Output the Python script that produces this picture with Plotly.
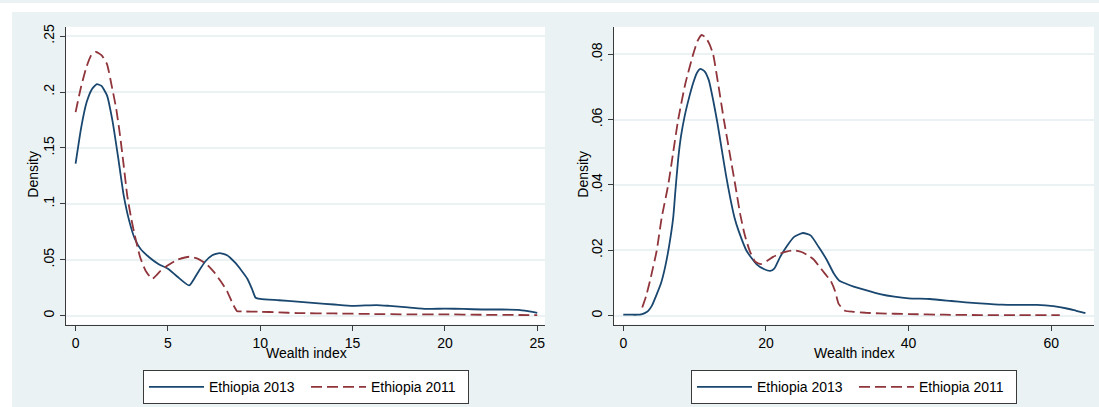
import plotly.graph_objects as go

# Kernel density of the wealth index, Ethiopia 2013 vs 2011
# Left panel: narrow index scale
left_x_2013 = [0, 0.3, 0.6, 0.9, 1.15, 1.4, 1.7, 2.0, 2.3, 2.6, 2.9, 3.2, 3.5, 4.0, 4.5,
               5.0, 5.5, 6.15, 6.6, 7.0, 7.4, 7.8, 8.2, 8.6, 9.0, 9.3, 9.55, 9.75, 10.0,
               11, 12, 13, 14, 15, 16.3, 17, 18, 19, 20, 21, 22, 23, 24, 24.5, 25]
left_y_2013 = [0.136, 0.168, 0.191, 0.203, 0.207, 0.2055, 0.197, 0.174, 0.142, 0.108, 0.085,
               0.069, 0.060, 0.052, 0.046, 0.042, 0.035, 0.027, 0.038, 0.048, 0.054, 0.056,
               0.054, 0.048, 0.040, 0.033, 0.024, 0.016, 0.015, 0.0138, 0.0125, 0.0112,
               0.010, 0.0088, 0.0095, 0.0088, 0.0075, 0.006, 0.0063, 0.006, 0.0055, 0.0055,
               0.0052, 0.004, 0.0025]

left_x_2011 = [0, 0.3, 0.6, 0.85, 1.1, 1.4, 1.7, 1.95, 2.2, 2.4, 2.6, 2.8, 3.0, 3.2, 3.5,
               3.8, 4.15, 4.6, 5.0, 5.5, 6.15, 6.6, 7.1, 7.5, 7.85, 8.2, 8.5, 8.75, 9, 10,
               11, 12, 14, 16, 18, 20, 22, 24, 25]
left_y_2011 = [0.182, 0.205, 0.223, 0.233, 0.2358, 0.233, 0.225, 0.206, 0.185, 0.162, 0.135,
               0.107, 0.088, 0.072, 0.052, 0.040, 0.033, 0.040, 0.045, 0.050, 0.0527, 0.051,
               0.046, 0.039, 0.031, 0.022, 0.011, 0.004, 0.0038, 0.0035, 0.003, 0.0023,
               0.002, 0.0015, 0.0012, 0.0012, 0.0008, 0.0006, 0.0005]

# Right panel: wide index scale
right_x_2013 = [0, 1, 2, 2.5, 3, 3.5, 4, 4.7, 5.3, 5.85, 6.4, 7.0, 7.3, 7.7, 8.1, 8.6, 9.2,
                9.8, 10.3, 10.8, 11.4, 12.0, 12.6, 13.2, 13.8, 14.4, 15.0, 15.6, 16.2, 17.3,
                18.7, 19.7, 20.6, 21.2, 22, 23, 24, 25.2, 26.3, 27.4, 28.5, 29.5, 30.3, 31,
                32.3, 34, 36, 38, 40, 43, 46, 48, 50, 53, 56, 58, 60.3, 62.2, 63.5, 64.8]
right_y_2013 = [0.0003, 0.0003, 0.0003, 0.0004, 0.0008, 0.0015, 0.003, 0.0066, 0.010, 0.0147,
                0.021, 0.030, 0.038, 0.048, 0.055, 0.061, 0.0665, 0.0712, 0.0742, 0.0755,
                0.0748, 0.0720, 0.066, 0.059, 0.051, 0.043, 0.036, 0.030, 0.0258, 0.0198,
                0.0157, 0.0143, 0.0137, 0.0145, 0.018, 0.0215, 0.0242, 0.0253, 0.0245, 0.021,
                0.0172, 0.013, 0.0107, 0.0100, 0.0089, 0.0078, 0.0066, 0.0058, 0.0053,
                0.0051, 0.0045, 0.0041, 0.0038, 0.0034, 0.0033, 0.0033, 0.0029, 0.0022,
                0.0015, 0.0008]

right_x_2011 = [2.66, 3.2, 3.74, 4.2, 4.68, 5.38, 6.3, 7.0, 7.7, 8.7, 9.8, 10.4, 11.0, 11.6,
                12.1, 12.6, 13.3, 14.1, 14.9, 15.7, 16.4, 17.0, 17.7, 18.5, 19.3, 20.1, 21,
                22, 23, 23.9, 25, 26, 26.7, 27.5, 28.3, 29.1, 29.7, 30.2, 31.1, 32.3, 34, 36,
                40, 45, 50, 55, 61.2]
right_y_2011 = [0.0025, 0.006, 0.0106, 0.015, 0.0198, 0.0299, 0.040, 0.050, 0.060, 0.071,
                0.080, 0.084, 0.0859, 0.085, 0.083, 0.080, 0.071, 0.060, 0.050, 0.040, 0.031,
                0.025, 0.020, 0.0165, 0.0158, 0.0167, 0.018, 0.019, 0.0197, 0.020, 0.0195,
                0.0183, 0.0172, 0.015, 0.0128, 0.0106, 0.0075, 0.0036, 0.0015, 0.0012,
                0.0009, 0.0007, 0.0005, 0.0003, 0.0002, 0.0002, 0.0002]

left_xticks = [0, 5, 10, 15, 20, 25]
left_yticks = [0, 0.05, 0.1, 0.15, 0.2, 0.25]
left_ylabels = ["0", ".05", ".1", ".15", ".2", ".25"]
right_xticks = [0, 20, 40, 60]
right_yticks = [0, 0.02, 0.04, 0.06, 0.08]
right_ylabels = ["0", ".02", ".04", ".06", ".08"]

NAME_2013 = "Ethiopia 2013"
NAME_2011 = "Ethiopia 2011"

W, H = 1099, 407
BLUE = "#1a476f"
RED = "#90353b"
BG = "#EAF2F3"
AX = "#3a3a3a"
TXT = "#000000"
FONT = "Liberation Sans, Arial, sans-serif"


def px_x(p):
    return p / W


def px_y(p):
    return 1 - p / H


fig = go.Figure()

curve = dict(shape="spline", smoothing=0.5, width=1.8)
fig.add_trace(go.Scatter(x=left_x_2013, y=left_y_2013, name=NAME_2013, mode="lines",
                         line=dict(color=BLUE, **curve), xaxis="x", yaxis="y",
                         legend="legend"))
fig.add_trace(go.Scatter(x=left_x_2011, y=left_y_2011, name=NAME_2011, mode="lines",
                         line=dict(color=RED, dash="11px,5px", **curve), xaxis="x",
                         yaxis="y", legend="legend"))
fig.add_trace(go.Scatter(x=right_x_2013, y=right_y_2013, name=NAME_2013, mode="lines",
                         line=dict(color=BLUE, **curve), xaxis="x2", yaxis="y2",
                         legend="legend2"))
fig.add_trace(go.Scatter(x=right_x_2011, y=right_y_2011, name=NAME_2011, mode="lines",
                         line=dict(color=RED, dash="11px,5px", **curve), xaxis="x2",
                         yaxis="y2", legend="legend2"))

common_axis = dict(showline=True, linecolor=AX, linewidth=1.3, ticks="outside", ticklen=5,
                   tickcolor=AX, tickwidth=1.3, zeroline=False, mirror=False,
                   tickfont=dict(family=FONT, size=14, color=TXT))

y_dom = [px_y(324), px_y(24)]

legend_style = dict(orientation="h", xanchor="center", y=px_y(370), yanchor="top",
                    bgcolor="white", bordercolor=AX, borderwidth=1, itemwidth=55,
                    entrywidth=92, font=dict(family=FONT, size=14, color=TXT))

fig.update_layout(
    width=W, height=H,
    margin=dict(l=0, r=0, t=0, b=0),
    paper_bgcolor=BG,
    plot_bgcolor="white",
    font=dict(family=FONT, size=14, color=TXT),
    xaxis=dict(domain=[px_x(66), px_x(545)], range=[-0.52, 25.42], tickvals=left_xticks,
               showgrid=False, anchor="y", **common_axis),
    yaxis=dict(domain=y_dom, range=[-0.008, 0.2583], tickvals=left_yticks,
               ticktext=left_ylabels, tickangle=-90, showgrid=True, gridcolor=BG,
               gridwidth=1.6, anchor="x", **common_axis),
    xaxis2=dict(domain=[px_x(614), px_x(1094)], range=[-1.3, 66.0], tickvals=right_xticks,
                showgrid=False, anchor="y2", **common_axis),
    yaxis2=dict(domain=y_dom, range=[-0.00273, 0.0884], tickvals=right_yticks,
                ticktext=right_ylabels, tickangle=-90, showgrid=True, gridcolor=BG,
                gridwidth=1.6, anchor="x2", **common_axis),
    legend=dict(x=px_x(306), **legend_style),
    legend2=dict(x=px_x(854), **legend_style),
    showlegend=True,
)

# White outer margin along the top and left edges
fig.add_shape(type="rect", xref="paper", yref="paper", x0=0, x1=1, y0=px_y(9), y1=1,
              fillcolor="white", line_width=0, layer="below")
fig.add_shape(type="rect", xref="paper", yref="paper", x0=0, x1=px_x(12), y0=0, y1=1,
              fillcolor="white", line_width=0, layer="below")

# Axis titles
for cx in (px_x(306), px_x(854)):
    fig.add_annotation(text="Wealth index", xref="paper", yref="paper", x=cx, y=px_y(353),
                       xanchor="center", yanchor="middle", showarrow=False,
                       font=dict(family=FONT, size=14, color=TXT))
for cx in (px_x(33), px_x(583)):
    fig.add_annotation(text="Density", xref="paper", yref="paper", x=cx, y=px_y(173),
                       xanchor="center", yanchor="middle", textangle=-90, showarrow=False,
                       font=dict(family=FONT, size=14, color=TXT))

fig.write_html("out.html")
